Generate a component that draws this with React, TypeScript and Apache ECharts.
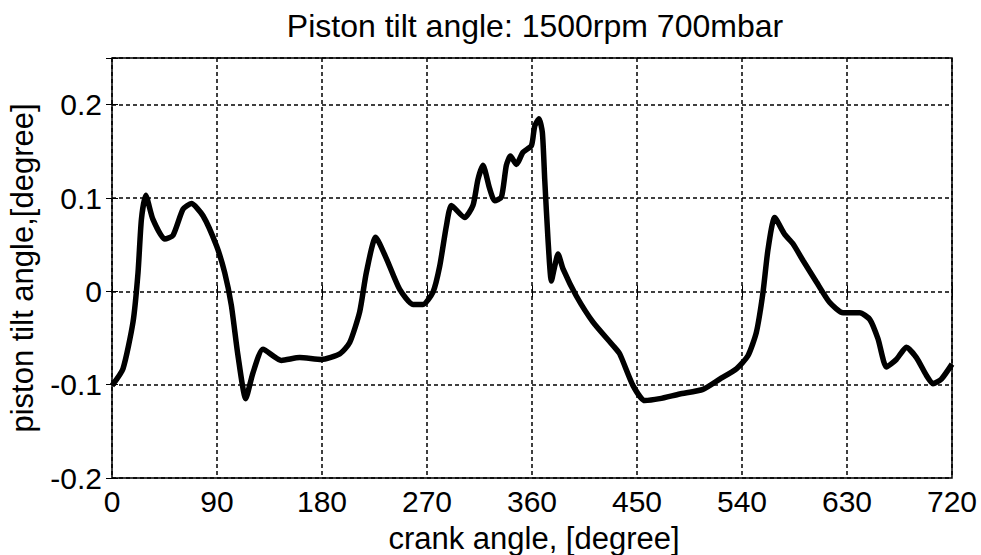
import React, { useEffect, useRef } from "react";
import * as echarts from "echarts";

const crankAngle = [
  0, 9.4, 18, 22.3, 25.2, 28.9, 35.1, 45.2, 52.3, 60.9,
  68, 78, 89.5, 96.6, 102.3, 108, 114.6, 120.9, 129.4, 145.2,
  160.9, 179.5, 195.2, 203.7, 212.3, 218, 226, 235.2, 246.6, 258,
  266.6, 275.1, 280.9, 286.6, 290.9, 302.3, 309.4, 313.7, 318, 323.7,
  328, 333.8, 338, 341.5, 346.6, 352.3, 359.5, 362.3, 366, 368.9,
  370.9, 373.7, 376.6, 379.5, 382.3, 386.6, 398, 412.3, 429.4, 435.2,
  446.6, 456.6, 469.5, 486.6, 506.6, 520.9, 535.2, 545.1, 552.3, 558,
  562.3, 568, 576.6, 583.7, 592.3, 603.8, 615.2, 626.6, 640.9, 649.5,
  656.6, 663.8, 672.3, 680.9, 689.5, 698, 703.7, 710.9, 720,
];

const tiltAngle = [
  -0.101, -0.083, -0.033, 0.02, 0.077, 0.103, 0.077, 0.056, 0.06, 0.088,
  0.094, 0.081, 0.049, 0.02, -0.015, -0.069, -0.115, -0.087, -0.062, -0.074,
  -0.071, -0.073, -0.067, -0.055, -0.022, 0.02, 0.058, 0.035, 0.002, -0.014,
  -0.014, -0.001, 0.027, 0.07, 0.092, 0.079, 0.092, 0.12, 0.135, 0.11,
  0.097, 0.101, 0.135, 0.145, 0.136, 0.149, 0.156, 0.177, 0.185, 0.17,
  0.12, 0.056, 0.011, 0.027, 0.04, 0.024, -0.005, -0.033, -0.058, -0.067,
  -0.101, -0.117, -0.115, -0.11, -0.105, -0.094, -0.083, -0.069, -0.044, -0.001,
  0.045, 0.079, 0.061, 0.051, 0.033, 0.01, -0.012, -0.023, -0.023, -0.03,
  -0.051, -0.081, -0.073, -0.06, -0.071, -0.09, -0.099, -0.094, -0.078,
];

const titleText = "Piston tilt angle: 1500rpm 700mbar";
const xAxisTitle = "crank angle, [degree]";
const yAxisTitle = "piston tilt angle,[degree]";

const FONT = '"Liberation Sans", Arial, Helvetica, sans-serif';

export default function App() {
  const ref = useRef<HTMLDivElement>(null);

  useEffect(() => {
    if (!ref.current) return;
    const chart = echarts.init(ref.current, undefined, { renderer: "svg" });
    const data = crankAngle.map((x, i) => [x, tiltAngle[i]]);
    const gridLine = { show: true, lineStyle: { color: "#000", type: [4, 3] as any, width: 1.5 } };
    chart.setOption({
      animation: false,
      backgroundColor: "#fff",
      textStyle: { fontFamily: FONT },
      grid: {
        left: 112,
        right: 29,
        top: 58,
        bottom: 77,
        show: true,
        borderColor: "#000",
        borderWidth: 1.5,
        backgroundColor: "transparent",
      },
      xAxis: [
        {
          type: "value",
          min: 0,
          max: 720,
          interval: 90,
          axisLine: { show: false },
          axisTick: { show: true, inside: true, length: 6, lineStyle: { color: "#000" } },
          axisLabel: { color: "#000", fontSize: 30, fontFamily: FONT, margin: 8 },
          splitLine: gridLine,
        },
        {
          type: "value",
          position: "top",
          min: 0,
          max: 720,
          interval: 90,
          axisLine: { show: false },
          axisTick: { show: true, inside: true, length: 6, lineStyle: { color: "#000" } },
          axisLabel: { show: false },
          splitLine: { show: false },
        },
      ],
      yAxis: [
        {
          type: "value",
          min: -0.2,
          max: 0.25,
          interval: 0.1,
          axisLine: { show: false },
          axisTick: { show: true, inside: true, length: 6, lineStyle: { color: "#000" } },
          axisLabel: {
            color: "#000",
            fontSize: 30,
            fontFamily: FONT,
            margin: 10,
            formatter: (v: number) =>
              Math.abs(v - 0.25) < 1e-9 ? "" : String(Math.round(v * 10) / 10),
          },
          splitLine: gridLine,
        },
        {
          type: "value",
          position: "right",
          min: -0.2,
          max: 0.25,
          interval: 0.1,
          axisLine: { show: false },
          axisTick: { show: true, inside: true, length: 6, lineStyle: { color: "#000" } },
          axisLabel: { show: false },
          splitLine: { show: false },
        },
      ],
      graphic: [
        {
          type: "text",
          x: 535,
          y: 26,
          style: {
            text: titleText,
            fill: "#000",
            font: `32px ${FONT}`,
            textAlign: "center",
            textVerticalAlign: "middle",
          },
        },
        {
          type: "text",
          x: 534,
          y: 538,
          style: {
            text: xAxisTitle,
            fill: "#000",
            font: `31px ${FONT}`,
            textAlign: "center",
            textVerticalAlign: "middle",
          },
        },
        {
          type: "text",
          x: 22,
          y: 268,
          rotation: Math.PI / 2,
          style: {
            text: yAxisTitle,
            fill: "#000",
            font: `31px ${FONT}`,
            textAlign: "center",
            textVerticalAlign: "middle",
          },
        },
      ],
      series: [
        {
          type: "line",
          xAxisIndex: 0,
          yAxisIndex: 0,
          data,
          showSymbol: false,
          smooth: 0.2,
          lineStyle: { color: "#000", width: 5.5 },
          z: 5,
        },
      ],
    });
    return () => chart.dispose();
  }, []);

  return (
    <div
      ref={ref}
      style={{ position: "absolute", left: 0, top: 0, width: 981, height: 555, background: "#fff" }}
    />
  );
}
